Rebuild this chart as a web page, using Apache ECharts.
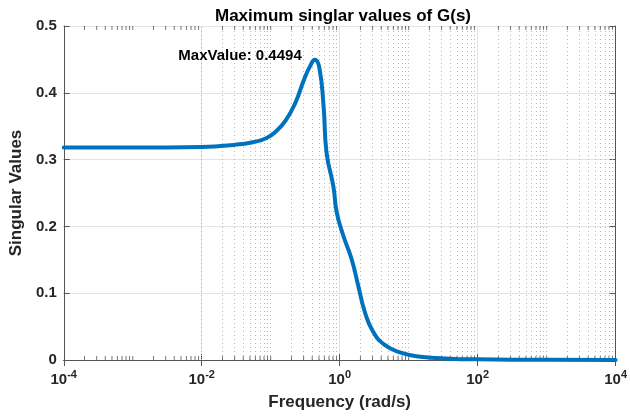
<!DOCTYPE html>
<html>
<head>
<meta charset="utf-8">
<script src="https://cdn.jsdelivr.net/npm/echarts@6/dist/echarts.min.js"></script>
<style>
  html, body { margin: 0; padding: 0; background: #fff; }
  #chart { width: 630px; height: 416px; }
</style>
</head>
<body>
<div id="chart"></div>
<script>
// frequency (rad/s) and max singular value
var freq = [0.0001, 0.001, 0.01, 0.029, 0.055, 0.086, 0.119, 0.166, 0.23, 0.30, 0.377, 0.435,
    0.506, 0.585, 0.646, 0.81, 0.906, 1.13, 1.48, 1.85, 2.30, 3.03, 4.44, 7.69, 14.8, 40, 100, 1000, 10000];
var singVal = [0.318, 0.318, 0.319, 0.322, 0.326, 0.332, 0.342, 0.359, 0.386, 0.418, 0.441, 0.4494,
    0.438, 0.379, 0.31, 0.26, 0.221, 0.186, 0.152, 0.112, 0.073, 0.043, 0.023, 0.011, 0.005, 0.002, 0.001, 0.0003, 0.0001];
var xTickExp = [-4, -2, 0, 2, 4];
var yTicks = [0, 0.1, 0.2, 0.3, 0.4, 0.5];
var peak = [0.435, 0.4494];

var font = '"Liberation Sans", Arial, sans-serif';
var txt = '#262626';

// minor grid/tick positions: 2..9 x 10^k plus the odd decades
var minorX = [];
for (var k = -4; k < 4; k++) {
    for (var m = 2; m <= 9; m++) minorX.push(m * Math.pow(10, k));
    if (xTickExp.indexOf(k + 1) < 0) minorX.push(Math.pow(10, k + 1));
}

var myChart = echarts.init(document.getElementById('chart'));

var option = {
    animation: false,
    title: {
        text: 'Maximum singlar values of G(s)',
        left: 338,
        textAlign: 'center',
        top: 3,
        textStyle: { fontFamily: font, fontSize: 17, fontWeight: 'bold', color: '#000' }
    },
    grid: { left: 58, right: 12, top: 26, bottom: 54 },
    xAxis: [{
        type: 'log',
        logBase: 10,
        min: 1e-4,
        max: 1e4,
        interval: 2,
        name: 'Frequency (rad/s)',
        nameLocation: 'middle',
        nameGap: 34,
        nameTextStyle: { fontFamily: font, fontSize: 17, fontWeight: 'bold', color: txt },
        axisLine: { lineStyle: { color: '#555', width: 1 } },
        axisTick: { inside: true, length: 6, lineStyle: { color: '#555' } },
        splitLine: { show: true, lineStyle: { color: '#e3e3e3', width: 1 } },
        axisLabel: {
            margin: 9,
            showMinLabel: true,
            showMaxLabel: true,
            formatter: function (v) {
                var e = Math.round(Math.log10(v));
                return '{b|10}{s|' + e + '}';
            },
            rich: {
                b: { fontFamily: font, fontSize: 15, fontWeight: 'bold', color: txt },
                s: { fontFamily: font, fontSize: 11, fontWeight: 'bold', color: txt, padding: [0, 0, 10, 0] }
            }
        }
    }, {
        type: 'log',
        logBase: 10,
        position: 'top',
        min: 1e-4,
        max: 1e4,
        interval: 2,
        axisLine: { show: true, lineStyle: { color: '#555', width: 1 } },
        axisTick: { inside: true, length: 6, lineStyle: { color: '#555' } },
        axisLabel: { show: false },
        splitLine: { show: false }
    }],
    yAxis: [{
        type: 'value',
        min: yTicks[0],
        max: yTicks[yTicks.length - 1],
        interval: 0.1,
        name: 'Singular Values',
        nameLocation: 'middle',
        nameGap: 38,
        nameTextStyle: { fontFamily: font, fontSize: 17, fontWeight: 'bold', color: txt },
        axisLine: { show: true, lineStyle: { color: '#555', width: 1 } },
        axisTick: { show: true, inside: true, length: 6, lineStyle: { color: '#555' } },
        splitLine: { show: true, lineStyle: { color: '#e3e3e3', width: 1 } },
        axisLabel: {
            margin: 7,
            fontFamily: font, fontSize: 15, fontWeight: 'bold', color: txt,
            formatter: function (v) { return v === 0 ? '0' : v.toFixed(1); }
        }
    }, {
        type: 'value',
        position: 'right',
        min: yTicks[0],
        max: yTicks[yTicks.length - 1],
        interval: 0.1,
        axisLine: { show: true, lineStyle: { color: '#555', width: 1 } },
        axisTick: { show: true, inside: true, length: 6, lineStyle: { color: '#555' } },
        axisLabel: { show: false },
        splitLine: { show: false }
    }],
    series: [{
        // dotted minor grid
        type: 'line',
        data: [],
        silent: true,
        z: 1,
        markLine: {
            z: 1,
            silent: true,
            symbol: 'none',
            label: { show: false },
            lineStyle: { type: [1, 3], color: '#b8b8b8', width: 1 },
            data: minorX.map(function (v) { return { xAxis: v }; })
        }
    }, {
        // minor ticks on bottom and top edges
        type: 'scatter',
        silent: true,
        z: 3,
        symbol: 'rect',
        symbolSize: [1, 4],
        itemStyle: { color: '#555' },
        data: minorX.map(function (v) { return { value: [v, 0], symbolOffset: [0, -2] }; })
            .concat(minorX.map(function (v) { return { value: [v, 0.5], symbolOffset: [0, 2] }; }))
    }, {
        type: 'line',
        zlevel: 1,
        z: 10,
        data: freq.map(function (f, i) { return [f, singVal[i]]; }),
        showSymbol: false,
        smooth: 0.5,
        lineStyle: { color: '#0072BD', width: 4, join: 'round', cap: 'round' },
        markPoint: {
            symbol: 'circle',
            symbolSize: 0,
            data: [{ coord: peak }],
            label: {
                show: true,
                position: 'inside',
                align: 'right',
                offset: [-13, -4],
                formatter: 'MaxValue: ' + peak[1],
                fontFamily: font, fontSize: 15, fontWeight: 'bold', color: '#000'
            }
        }
    }]
};

myChart.setOption(option);
window.addEventListener('resize', function () {
    myChart.resize();
});
</script>
</body>
</html>
